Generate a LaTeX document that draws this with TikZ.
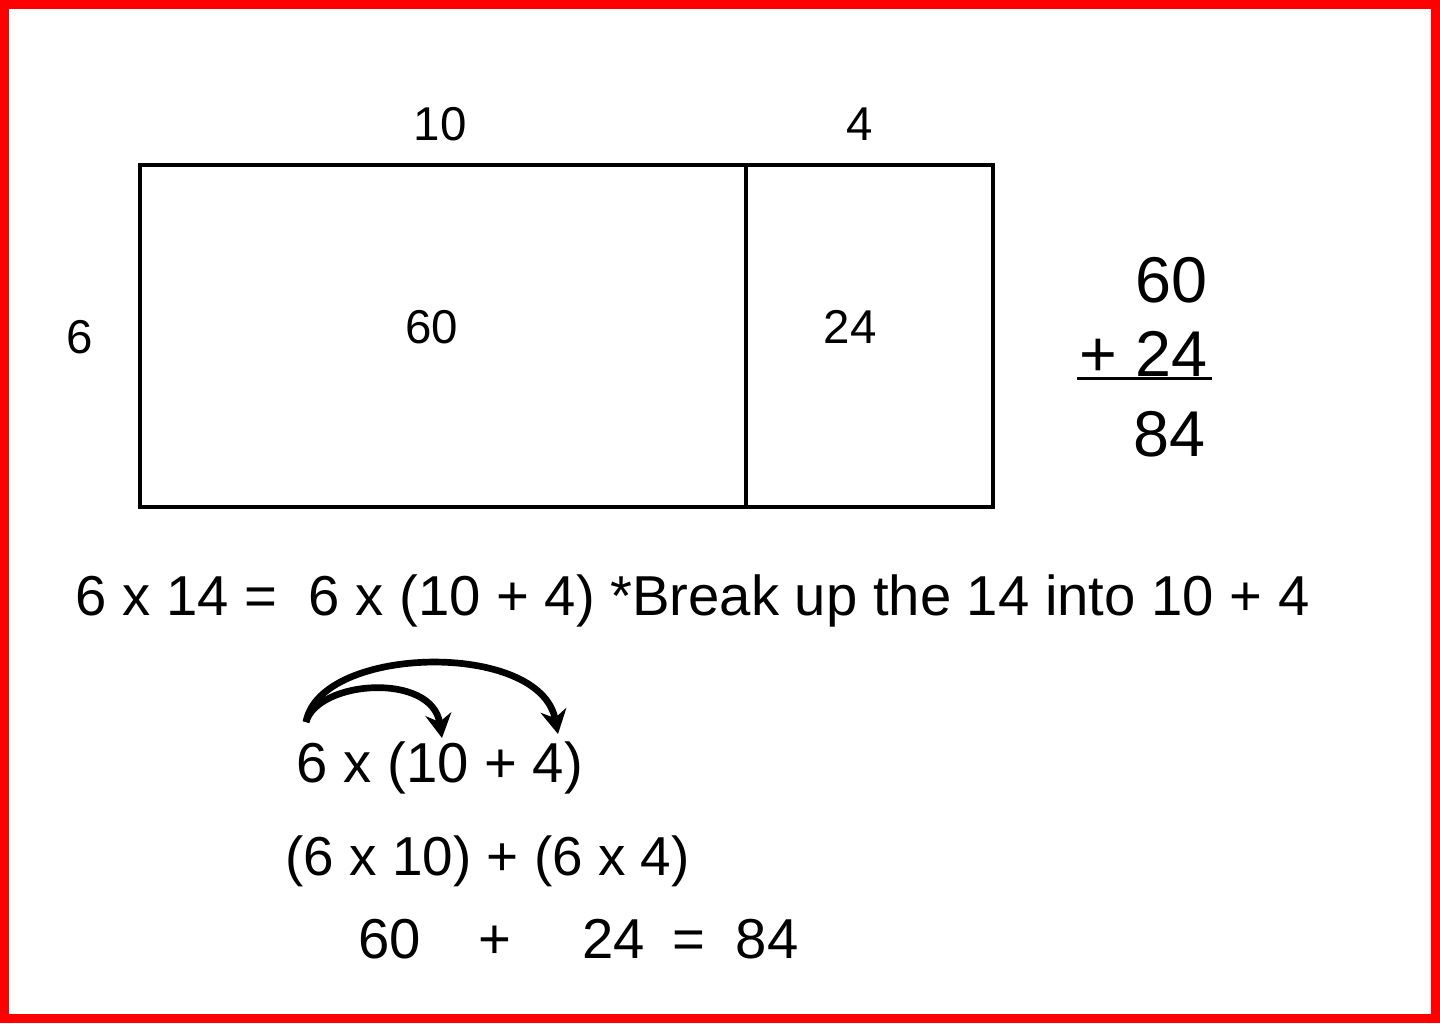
\documentclass[tikz,border=0pt]{standalone}
\usepackage{fontspec}
\setmainfont{Liberation Sans}
\usetikzlibrary{arrows.meta}
\tikzset{
    side/.style={
        inner sep=0pt,
        font=\fontsize{13.5}{16}\selectfont
    },
    eqline/.style={
        inner sep=0pt,
        anchor=base west,
        font=\fontsize{16}{19}\selectfont
    },
    sumline/.style={
        inner sep=0pt,
        anchor=base east,
        font=\fontsize{18.4}{22}\selectfont
    },
    jump/.style={
        draw,
        -{Stealth[length=2.4mm, width=2.6mm]},
        line width=1.9pt
    }
}

\begin{document}
\begin{tikzpicture}[x=0.01cm, y=-0.01cm]
  \useasboundingbox (0,0) rectangle (1440,1023);
  \draw[red, line width=0.09cm] (4.5,4.5) rectangle (1435,1018);

  \draw[line width=0.04cm] (140,165) rectangle (746,507);
  \draw[line width=0.04cm] (746,165) rectangle (993,507);

  \node[side] (w10) at (440,124) {10};
  \node[side] (w4) at (860,124) {4};
  \node[side] (h6) at (80,337) {6};
  \node[side] (a60) at (432,327) {60};
  \node[side] (a24) at (850,327) {24};

  \node[sumline] (s60) at (1208,302) {60};
  \node[sumline] (s24) at (1208,376) {+ 24};
  \node[sumline] (s84) at (1206,456) {84};
  \draw[line width=0.03cm] (1077,378) -- (1212,378);

  \node[eqline] (eq) at (75,615) {6 x 14 =\ \ 6 x (10 + 4) *Break up the 14 into 10 + 4};

  \node[eqline] (dist) at (296,782) {6 x (10 + 4)};
  \node[eqline, font=\fontsize{15.6}{19}\selectfont] (prod) at (285,875) {(6 x 10) + (6 x 4)};

  \node[eqline] (r60) at (358,958) {60};
  \node[eqline] (rplus) at (478,958) {+};
  \node[eqline] (r24) at (582,958) {24};
  \node[eqline] (req) at (672,958) {=};
  \node[eqline] (r84) at (735,958) {84};

  \coordinate (six) at (306,722);
  \coordinate (ten) at (442,738);
  \coordinate (four) at (558,734);
  \draw[jump] (six) .. controls (318,680) and (432,672) .. (ten);
  \draw[jump] (six) .. controls (320,645) and (540,640) .. (four);
\end{tikzpicture}
\end{document}
